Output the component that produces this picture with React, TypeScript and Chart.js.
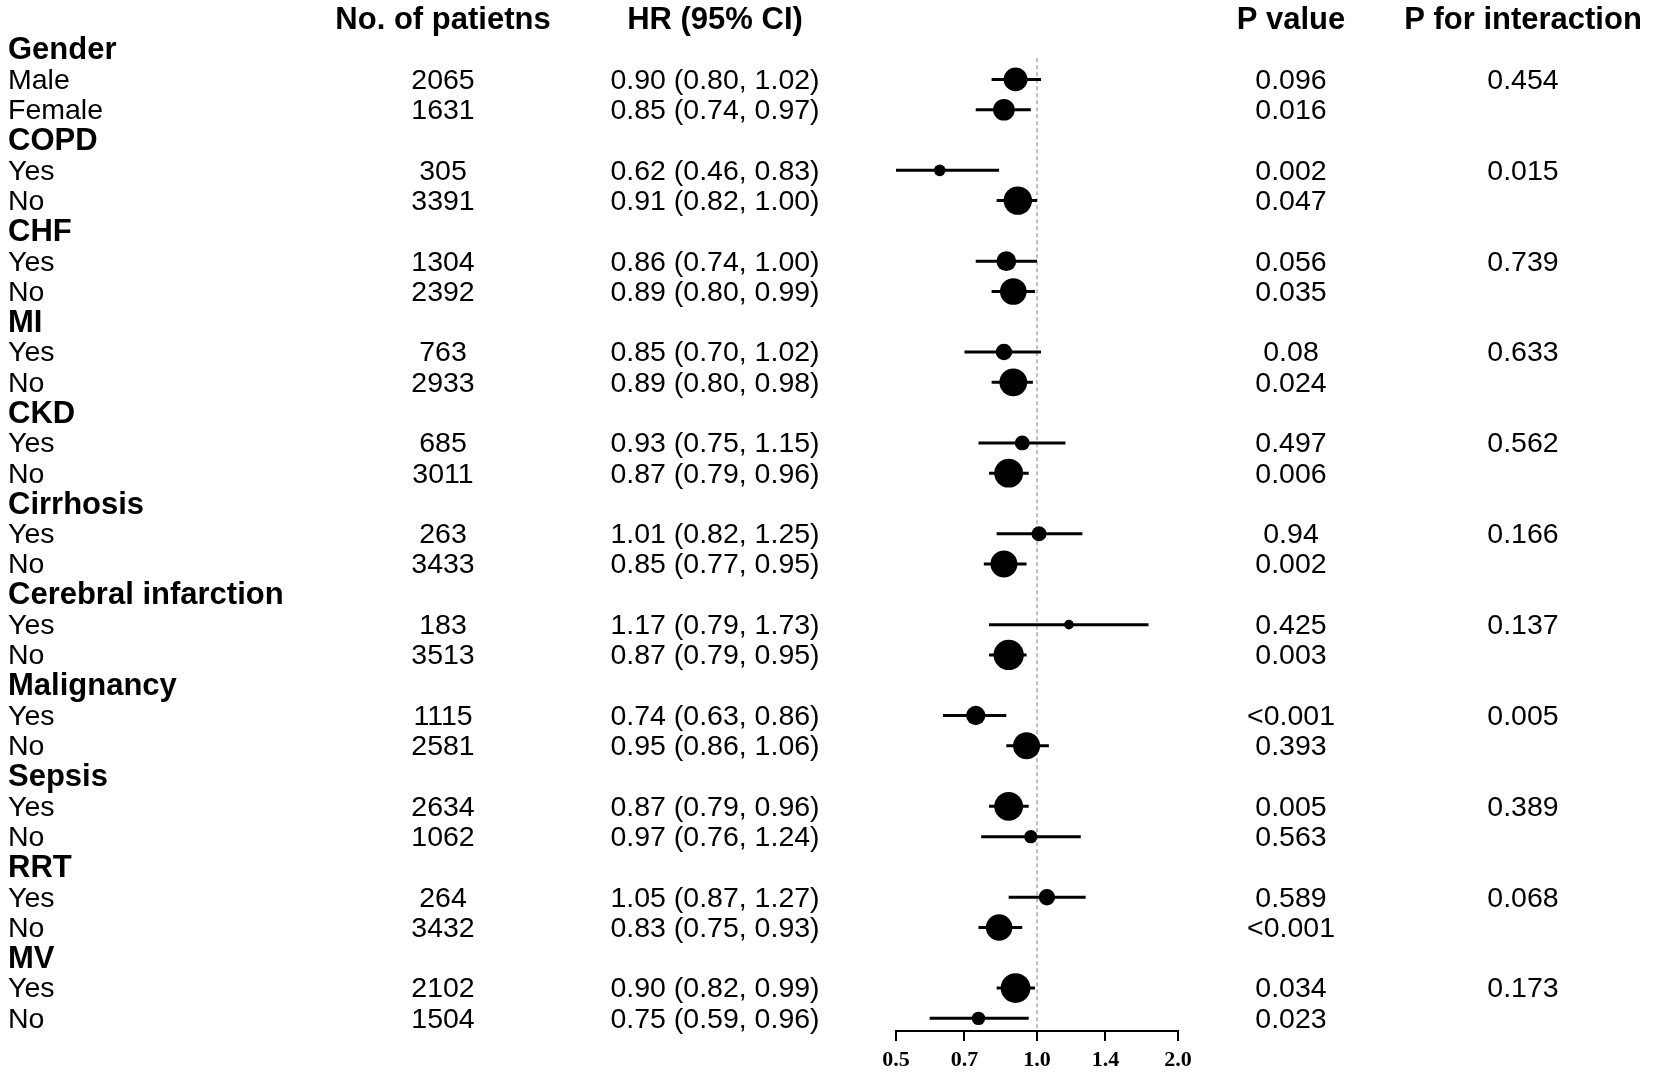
import React, { useEffect, useRef } from "react";
import { Chart, registerables } from "chart.js";

Chart.register(...registerables);

const rowLabels = [
  "Gender", "Male", "Female",
  "COPD", "Yes", "No",
  "CHF", "Yes", "No",
  "MI", "Yes", "No",
  "CKD", "Yes", "No",
  "Cirrhosis", "Yes", "No",
  "Cerebral infarction", "Yes", "No",
  "Malignancy", "Yes", "No",
  "Sepsis", "Yes", "No",
  "RRT", "Yes", "No",
  "MV", "Yes", "No",
];

const patients = [
  "", "2065", "1631",
  "", "305", "3391",
  "", "1304", "2392",
  "", "763", "2933",
  "", "685", "3011",
  "", "263", "3433",
  "", "183", "3513",
  "", "1115", "2581",
  "", "2634", "1062",
  "", "264", "3432",
  "", "2102", "1504",
];

const hr: (number | null)[] = [
  null, 0.9, 0.85,
  null, 0.62, 0.91,
  null, 0.86, 0.89,
  null, 0.85, 0.89,
  null, 0.93, 0.87,
  null, 1.01, 0.85,
  null, 1.17, 0.87,
  null, 0.74, 0.95,
  null, 0.87, 0.97,
  null, 1.05, 0.83,
  null, 0.9, 0.75,
];

const lower: (number | null)[] = [
  null, 0.8, 0.74,
  null, 0.46, 0.82,
  null, 0.74, 0.8,
  null, 0.7, 0.8,
  null, 0.75, 0.79,
  null, 0.82, 0.77,
  null, 0.79, 0.79,
  null, 0.63, 0.86,
  null, 0.79, 0.76,
  null, 0.87, 0.75,
  null, 0.82, 0.59,
];

const upper: (number | null)[] = [
  null, 1.02, 0.97,
  null, 0.83, 1.0,
  null, 1.0, 0.99,
  null, 1.02, 0.98,
  null, 1.15, 0.96,
  null, 1.25, 0.95,
  null, 1.73, 0.95,
  null, 0.86, 1.06,
  null, 0.96, 1.24,
  null, 1.27, 0.93,
  null, 0.99, 0.96,
];

const pValues = [
  "", "0.096", "0.016",
  "", "0.002", "0.047",
  "", "0.056", "0.035",
  "", "0.08", "0.024",
  "", "0.497", "0.006",
  "", "0.94", "0.002",
  "", "0.425", "0.003",
  "", "<0.001", "0.393",
  "", "0.005", "0.563",
  "", "0.589", "<0.001",
  "", "0.034", "0.023",
];

const pInteraction = [
  "", "0.454", "",
  "", "0.015", "",
  "", "0.739", "",
  "", "0.633", "",
  "", "0.562", "",
  "", "0.166", "",
  "", "0.137", "",
  "", "0.005", "",
  "", "0.389", "",
  "", "0.068", "",
  "", "0.173", "",
];

const headers = ["No. of patietns", "HR (95% CI)", "P value", "P for interaction"];
const xTicks = [0.5, 0.7, 1.0, 1.4, 2.0];

const REG = "28.5px 'Liberation Sans', Arial, sans-serif";
const BOLD = "bold 31px 'Liberation Sans', Arial, sans-serif";
const COL_X = [443, 715, 1291, 1523];
const TEXT_DY = 1.5;

const hrText = (i: number) =>
  `${(hr[i] as number).toFixed(2)} (${(lower[i] as number).toFixed(2)}, ${(upper[i] as number).toFixed(2)})`;

const tablePlugin = {
  id: "forestTable",
  afterDraw(chart: any) {
    const ctx = chart.ctx as CanvasRenderingContext2D;
    const ys = chart.scales.y;
    ctx.save();
    ctx.fillStyle = "#000";
    ctx.textBaseline = "middle";
    ctx.font = BOLD;
    ctx.textAlign = "center";
    const hy = ys.getPixelForValue(-1) + TEXT_DY;
    headers.forEach((h, k) => ctx.fillText(h, COL_X[k], hy));
    rowLabels.forEach((lab, i) => {
      const py = ys.getPixelForValue(i) + TEXT_DY;
      const grp = hr[i] === null;
      ctx.textAlign = "left";
      ctx.font = grp ? BOLD : REG;
      ctx.fillText(lab, 8, py);
      if (!grp) {
        ctx.font = REG;
        ctx.textAlign = "center";
        ctx.fillText(patients[i], COL_X[0], py);
        ctx.fillText(hrText(i), COL_X[1], py);
        ctx.fillText(pValues[i], COL_X[2], py);
        if (pInteraction[i]) ctx.fillText(pInteraction[i], COL_X[3], py);
      }
    });
    ctx.restore();
  },
};

export default function App() {
  const ref = useRef<HTMLCanvasElement | null>(null);

  useEffect(() => {
    if (!ref.current) return;
    const idx = hr.map((v, i) => (v === null ? -1 : i)).filter((i) => i >= 0);

    const pointData = idx.map((i) => ({ x: hr[i] as number, y: i }));
    const radii = idx.map((i) => {
      const w = 1 / Math.log((upper[i] as number) / (lower[i] as number));
      return 1.6 + 2.5 * w;
    });

    const ciSets = idx.map((i) => ({
      type: "scatter" as const,
      data: [
        { x: lower[i] as number, y: i },
        { x: upper[i] as number, y: i },
      ],
      showLine: true,
      borderColor: "#000",
      borderWidth: 3,
      pointRadius: 0,
      order: 2,
    }));

    const chart = new Chart(ref.current, {
      type: "scatter",
      data: {
        datasets: [
          {
            data: pointData,
            pointStyle: "circle",
            pointRadius: radii,
            backgroundColor: "#000",
            borderColor: "#000",
            borderWidth: 0,
            order: 0,
          } as any,
          ...ciSets,
          {
            data: [
              { x: 1, y: 0.3 },
              { x: 1, y: 32.45 },
            ],
            showLine: true,
            borderColor: "#a8a8b0",
            borderWidth: 1.5,
            borderDash: [4, 3],
            pointRadius: 0,
            order: 3,
          } as any,
        ],
      },
      options: {
        animation: false,
        responsive: false,
        events: [],
        layout: { padding: { left: 896, right: 476, top: 30, bottom: 0 } },
        plugins: { legend: { display: false }, tooltip: { enabled: false } },
        scales: {
          x: {
            type: "logarithmic",
            min: 0.5,
            max: 2.0,
            afterBuildTicks: (axis: any) => {
              axis.ticks = xTicks.map((v) => ({ value: v }));
            },
            afterFit: (axis: any) => {
              axis.height = 49;
            },
            grid: {
              drawOnChartArea: false,
              drawTicks: true,
              tickLength: 10,
              color: "#000",
              lineWidth: 2,
            },
            border: { display: true, color: "#000", width: 2 },
            ticks: {
              autoSkip: false,
              maxRotation: 0,
              padding: 6,
              color: "#000",
              font: { family: "'Liberation Serif', 'Times New Roman', serif", size: 22, weight: "bold" },
              callback: (v: any) => Number(v).toFixed(1),
            },
          },
          y: {
            type: "linear",
            min: -0.633,
            max: 32.417,
            reverse: true,
            display: false,
          },
        },
      },
      plugins: [tablePlugin],
    });
    return () => chart.destroy();
  }, []);

  return (
    <div style={{ position: "absolute", left: 0, top: 0, width: 1654, height: 1080, background: "#fff" }}>
      <canvas ref={ref} width={1654} height={1080} />
    </div>
  );
}
